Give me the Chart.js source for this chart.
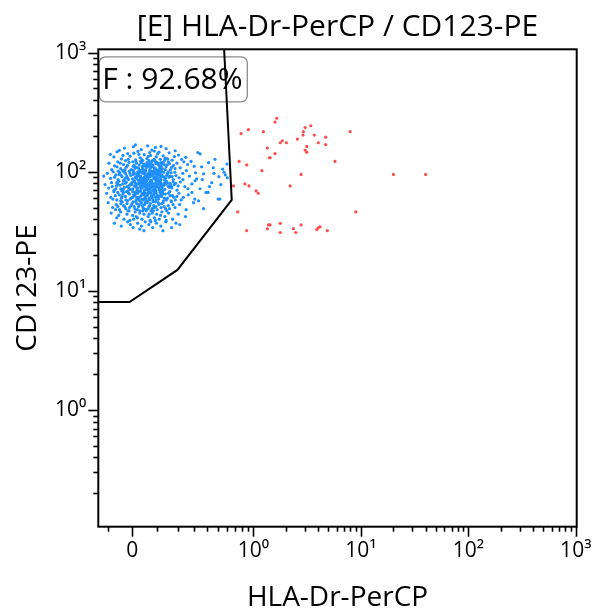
<!DOCTYPE html>
<html>
<head>
<meta charset="utf-8">
<script src="https://cdn.jsdelivr.net/npm/chart.js@4.4.1/dist/chart.umd.min.js"></script>
<style>
  html, body { margin: 0; padding: 0; background: #fff; }
  canvas { display: block; }
</style>
</head>
<body>
<canvas id="dotPlot" width="592" height="612"></canvas>
<script>
// titres et gate
const chartTitle = '[E] HLA-Dr-PerCP / CD123-PE';
const xTitle = 'HLA-Dr-PerCP';
const yTitle = 'CD123-PE';
const gateName = 'F';
const gatePercent = 92.68;

// limites des axes
const xRange = [-0.143, 1020];
const yRange = [0.105, 1065];

// graduations
const xMajorTicks = [0, 1, 10, 100, 1000];
const xMajorLabels = ['0', '10⁰', '10¹', '10²', '10³'];
const xMinorTicks = [-0.1, 0.1, 0.2, 0.3, 0.4, 0.5, 0.6, 0.7, 0.8, 0.9,
  2, 3, 4, 5, 6, 7, 8, 9, 20, 30, 40, 50, 60, 70, 80, 90,
  200, 300, 400, 500, 600, 700, 800, 900];
const yMajorTicks = [1, 10, 100, 1000];
const yMajorLabels = ['10⁰', '10¹', '10²', '10³'];
const yMinorTicks = [0.2, 0.3, 0.4, 0.5, 0.6, 0.7, 0.8, 0.9,
  2, 3, 4, 5, 6, 7, 8, 9, 20, 30, 40, 50, 60, 70, 80, 90,
  200, 300, 400, 500, 600, 700, 800, 900];

// polygone du gate F
const gateX = [0.566, 0.658, 0.199, -0.011, -0.143];
const gateY = [1065, 58.0, 15.0, 8.06, 8.06];

// événements dans le gate (bleu)
const gatedCells = [
  [0.012,168],[0.061,165],[-0.031,158],[0.094,160],[0.035,153],[0.142,156],[-0.052,151],[0.078,152],[0.004,162],[0.187,150],[0.118,163],
  [-0.061,147],[-0.018,142],[0.022,148],[0.047,139],[0.069,145],[0.103,141],[0.128,136],[0.156,144],[-0.074,133],[-0.043,128],[-0.009,135],
  [0.013,126],[0.031,131],[0.058,129],[0.081,124],[0.097,133],[0.115,127],[0.138,130],[0.171,125],[0.205,138],[0.246,132],[-0.089,140],
  [0.006,143],[0.041,124],[0.073,137],[0.089,149],[0.149,128],[-0.027,124],[0.063,134],[0.026,140],[0.109,146],[0.222,127],[0.327,145],
  [0.183,134],[-0.037,137],
  [-0.095,118],[-0.071,112],[-0.058,121],[-0.046,106],[-0.035,115],[-0.024,109],[-0.013,120],[-0.004,104],[0.007,113],[0.016,118],
  [0.024,107],[0.033,122],[0.039,110],[0.046,116],[0.052,103],[0.058,119],[0.064,111],[0.071,106],[0.077,121],[0.083,114],[0.089,108],
  [0.096,117],[0.102,103],[0.109,112],[0.117,119],[0.124,106],[0.133,115],[0.141,110],[0.152,121],[0.163,104],[0.178,113],[0.196,118],
  [0.214,108],[0.258,115],[0.301,111],[0.412,119],[0.455,108],[-0.083,104],[-0.019,113],[0.002,121],[0.029,103],[0.043,112],[0.055,108],
  [0.068,117],[0.086,102],[0.093,122],[0.113,107],[0.127,120],[0.147,114],[0.169,109],[-0.061,110],[0.011,107],[0.036,119],[0.061,113],
  [0.079,110],[0.099,120],[0.121,116],[0.138,104],[0.235,121],[0.186,106],
  [-0.118,92],[-0.102,97],[-0.088,88],[-0.077,100],[-0.066,94],[-0.057,86],[-0.049,98],[-0.041,91],[-0.033,85],[-0.026,96],[-0.019,89],
  [-0.012,101],[-0.006,93],[0.001,87],[0.006,99],[0.012,90],[0.018,95],[0.023,85],[0.028,101],[0.033,92],[0.037,88],[0.042,97],
  [0.047,90],[0.051,100],[0.055,86],[0.059,94],[0.063,89],[0.067,98],[0.072,91],[0.076,85],[0.081,96],[0.085,92],[0.09,87],[0.095,100],
  [0.1,94],[0.106,89],[0.112,97],[0.118,86],[0.125,92],[0.131,99],[0.139,88],[0.147,95],[0.156,90],[0.166,98],[0.177,86],[0.191,93],
  [0.208,89],[0.229,97],[0.27,92],[0.318,87],[0.37,96],[0.51,91],[0.58,94],[-0.071,90],[-0.038,102],[-0.015,86],[0.004,95],[0.02,91],
  [0.035,99],[0.049,87],[0.061,96],[0.074,101],[0.087,88],[0.097,91],[0.108,101],[0.121,94],[0.135,85],[0.152,100],[0.171,91],
  [-0.053,95],[-0.028,88],[0.009,97],[0.026,93],[0.044,85],[0.057,91],[0.07,95],[0.083,99],[0.103,85],[0.116,90],[0.144,93],
  [-0.112,78],[-0.096,73],[-0.084,81],[-0.073,70],[-0.063,76],[-0.054,83],[-0.046,72],[-0.038,79],[-0.031,74],[-0.024,82],[-0.017,69],
  [-0.011,77],[-0.005,80],[0.002,72],[0.008,84],[0.013,75],[0.019,70],[0.024,79],[0.029,83],[0.034,73],[0.038,77],[0.043,81],[0.048,70],
  [0.052,75],[0.056,83],[0.06,78],[0.065,71],[0.069,80],[0.073,74],[0.078,82],[0.082,69],[0.087,77],[0.091,72],[0.096,84],[0.101,75],
  [0.106,79],[0.111,70],[0.117,81],[0.123,74],[0.129,78],[0.136,71],[0.143,83],[0.151,76],[0.16,80],[0.17,73],[0.182,78],[0.197,70],
  [0.215,82],[0.241,75],[0.286,79],[0.343,72],[0.44,81],[-0.081,75],[-0.058,79],[-0.042,69],[-0.021,75],[-0.002,78],[0.011,81],[0.022,73],
  [0.031,76],[0.041,84],[0.05,79],[0.058,72],[0.067,76],[0.076,79],[0.085,71],[0.094,80],[0.104,83],[0.114,76],[0.126,69],[0.14,79],
  [0.157,74],[0.176,82],[-0.066,72],[-0.035,84],[-0.008,71],[0.016,78],[0.036,80],[0.054,71],[0.071,84],[0.089,75],[0.108,73],[0.133,80],
  [0.163,77],[0.203,76],
  [-0.105,66],[-0.087,61],[-0.074,68],[-0.062,58],[-0.052,64],[-0.043,60],[-0.035,67],[-0.027,62],[-0.019,57],[-0.012,65],[-0.005,60],
  [0.002,68],[0.009,63],[0.015,58],[0.021,66],[0.027,61],[0.032,69],[0.037,59],[0.042,64],[0.047,67],[0.052,62],[0.057,57],[0.062,65],
  [0.067,60],[0.072,68],[0.077,63],[0.083,58],[0.088,66],[0.094,61],[0.1,64],[0.107,59],[0.114,67],[0.121,62],[0.129,57],[0.138,65],
  [0.148,60],[0.159,68],[0.172,63],[0.188,58],[0.207,66],[0.232,61],[0.262,64],[0.305,59],[0.39,67],[-0.068,63],[-0.046,57],[-0.023,68],
  [-0.009,59],[0.005,64],[0.018,61],[0.029,57],[0.039,66],[0.049,60],[0.059,63],[0.069,58],[0.08,61],[0.091,68],[0.103,62],[0.117,64],
  [0.134,60],[0.153,66],[0.18,61],[-0.037,65],[0.012,67],[0.044,58],[0.074,66],[0.097,58],[0.125,68],[0.166,57],
  [-0.098,55],[-0.079,50],[-0.064,53],[-0.051,48],[-0.04,56],[-0.03,51],[-0.021,54],[-0.013,47],[-0.005,52],[0.003,56],[0.01,49],
  [0.017,54],[0.024,51],[0.03,47],[0.036,55],[0.042,50],[0.048,53],[0.054,48],[0.06,56],[0.066,51],[0.072,54],[0.079,49],[0.086,52],
  [0.093,56],[0.101,48],[0.109,53],[0.118,50],[0.128,55],[0.139,49],[0.152,52],[0.168,56],[0.186,50],[0.211,53],[0.249,48],[0.296,55],
  [-0.058,51],[-0.026,49],[-0.001,54],[0.02,48],[0.039,52],[0.057,55],[0.075,47],[0.096,51],[0.121,54],[0.145,47],[0.176,53],[0.007,51],
  [0.063,49],[0.083,56],[-0.045,54],
  [-0.085,45],[-0.062,41],[-0.047,46],[-0.033,40],[-0.021,44],[-0.01,39],[0.001,43],[0.011,46],[0.02,41],[0.029,45],[0.038,40],[0.046,44],
  [0.055,47],[0.063,42],[0.071,39],[0.08,45],[0.089,41],[0.099,44],[0.11,40],[0.122,46],[0.136,42],[0.153,45],[0.174,40],[0.203,44],
  [0.245,42],[-0.017,47],[0.015,42],[0.041,47],[0.067,44],[0.093,39],[0.116,43],[0.142,39],[-0.054,43],[0.005,40],[0.085,47],
  [-0.072,37],[-0.044,35],[-0.019,38],[0.003,34],[0.021,37],[0.036,35],[0.051,38],[0.066,36],[0.082,34],[0.098,37],[0.117,35],[0.14,38],
  [0.168,34],[0.212,36],[0.046,32],[0.074,38],[0.127,32],[-0.008,36],[0.029,33],[0.191,37],
  [0.343,141],[0.355,110],[0.55,105],[0.565,99],[0.603,89],[0.52,59],[0.408,67],[0.502,59],[0.307,84],[0.286,67],[0.332,57],[0.47,127],
  [0.42,75],[0.37,49],
  [-0.048,118],[-0.029,104],[-0.016,127],[0.003,111],[0.014,123],[0.027,114],[0.038,126],[0.051,112],[0.066,124],[0.074,115],[0.088,127],
  [0.104,118],[0.119,111],[0.135,125],[0.158,117],[-0.056,101],[-0.044,93],[-0.031,99],[-0.022,92],[-0.009,97],[0.004,102],[0.015,88],
  [0.025,97],[0.032,86],[0.044,101],[0.053,93],[0.062,87],[0.069,102],[0.079,93],[0.092,97],[0.098,89],[0.111,94],[0.123,100],[0.132,90],
  [0.149,97],[0.162,92],[0.185,99],[-0.062,81],[-0.049,77],[-0.036,71],[-0.027,80],[-0.014,73],[0.001,82],[0.009,76],[0.018,73],[0.026,81],
  [0.033,69],[0.045,76],[0.051,82],[0.057,74],[0.064,79],[0.072,72],[0.081,80],[0.093,74],[0.099,78],[0.112,83],[0.121,72],[0.131,77],
  [0.146,81],[0.168,75],[0.189,80],[-0.078,59],[-0.058,67],[-0.041,62],[-0.025,58],[-0.014,66],[0.001,61],[0.013,65],[0.023,59],[0.034,63],
  [0.046,65],[0.054,59],[0.065,67],[0.078,61],[0.086,64],[0.096,67],[0.109,62],[0.126,65],[0.143,58],[0.161,63],[0.196,62],[-0.067,48],
  [-0.035,52],[-0.011,50],[0.014,56],[0.027,53],[0.045,49],[0.051,55],[0.069,52],[0.089,50],[0.106,55],[0.132,51],[0.158,49],[0.016,109],
  [0.041,105],[0.058,115],[0.076,110],[0.094,106],[0.107,115],[0.048,96],[0.066,92],[0.085,96],[0.032,89],[0.021,100],[0.105,97],[0.117,103],
  [0.039,73],[0.061,70],[0.078,75],[0.095,70],[0.118,78],[0.024,68],[0.053,66],
  [0.25,102],[0.28,122],[0.23,86],[0.26,72],[0.31,98],[0.22,58],[0.36,86],[0.46,97],[0.53,78],[0.6,116]
];

// événements hors gate (rouge)
const outsideCells = [
  [1.65,281],[1.59,261],[0.91,226],[0.79,209],[1.24,217],[3.42,243],[3.03,235],[2.92,217],[2.90,203],[3.69,203],[4.71,195],[7.94,217],
  [2.57,188],[1.86,182],[1.78,175],[2.03,175],[4.02,175],[4.71,169],[3.14,163],[1.35,158],[3.03,152],[3.14,146],[1.59,142],[1.43,131],
  [1.41,131],[0.76,122],[5.75,122],[0.88,114],[1.20,102],[2.78,95],[20.1,95],[40.1,95],[0.68,76],[0.85,79],[0.92,76],[2.20,76],
  [1.06,69],[1.11,66],[0.74,46],[8.97,46],[1.43,35.8],[1.38,35.8],[1.78,36.9],[2.78,35.8],[1.35,33.2],[2.36,33.3],[4.17,34.5],
  [4.02,33.8],[3.89,32.7],[0.88,32.1],[1.78,30.9],[2.48,30.9],[4.88,32.1]
];

const FONT = '"Open Sans", "DejaVu Sans", sans-serif';

// échelle biexponentielle : linéaire autour de zéro, log au-dessus de 1
const LIN_WIDTH = 0.21;
const DECADE = 0.888;
const ASINH_ONE = Math.asinh(1 / LIN_WIDTH);

function toBiex(v) {
  return v >= 1 ? 1 + DECADE * Math.log10(v) : Math.asinh(v / LIN_WIDTH) / ASINH_ONE;
}
function fromBiex(t) {
  return t >= 1 ? Math.pow(10, (t - 1) / DECADE) : LIN_WIDTH * Math.sinh(t * ASINH_ONE);
}

class BiexScale extends Chart.Scale {
  determineDataLimits() {
    this.min = this.options.min;
    this.max = this.options.max;
  }
  buildTicks() {
    return xMajorTicks.map(v => ({ value: v, major: true }))
      .concat(xMinorTicks.map(v => ({ value: v, major: false })))
      .sort((a, b) => a.value - b.value);
  }
  configure() {
    super.configure();
    this._startValue = toBiex(this.min);
    this._valueRange = toBiex(this.max) - this._startValue;
  }
  getPixelForValue(value) {
    if (value === null || value === undefined || isNaN(value)) return NaN;
    return this.getPixelForDecimal((toBiex(value) - this._startValue) / this._valueRange);
  }
  getValueForPixel(pixel) {
    return fromBiex(this.getDecimalForPixel(pixel) * this._valueRange + this._startValue);
  }
}
BiexScale.id = 'biex';
BiexScale.defaults = {};
Chart.register(BiexScale);

// cadre, graduations et étiquette du gate
const plotDecor = {
  id: 'plotDecor',
  beforeDatasetsDraw(chart) {
    const ctx = chart.ctx;
    const a = chart.chartArea;
    const x = a.left + 1, y = a.top + 7.5, w = 148, h = 45, r = 6;
    ctx.save();
    ctx.beginPath();
    ctx.moveTo(x + r, y);
    ctx.arcTo(x + w, y, x + w, y + h, r);
    ctx.arcTo(x + w, y + h, x, y + h, r);
    ctx.arcTo(x, y + h, x, y, r);
    ctx.arcTo(x, y, x + w, y, r);
    ctx.closePath();
    ctx.fillStyle = '#fff';
    ctx.fill();
    ctx.strokeStyle = '#8c8c8c';
    ctx.lineWidth = 1.3;
    ctx.stroke();
    ctx.fillStyle = '#000';
    ctx.font = '30px ' + FONT;
    ctx.textBaseline = 'middle';
    ctx.textAlign = 'left';
    ctx.fillText(gateName + ' : ' + gatePercent.toFixed(2) + '%', x + 3, y + h / 2 + 1);
    ctx.restore();
  },
  afterDraw(chart) {
    const ctx = chart.ctx;
    const a = chart.chartArea;
    const xs = chart.scales.x, ys = chart.scales.y;
    ctx.save();
    ctx.strokeStyle = '#000';
    ctx.lineWidth = 1.6;
    xs.ticks.forEach(t => {
      const p = Math.round(xs.getPixelForValue(t.value)) + 0.5;
      ctx.beginPath();
      ctx.moveTo(p, a.bottom);
      ctx.lineTo(p, a.bottom + (t.major ? 10 : 5));
      ctx.stroke();
    });
    ys.ticks.forEach(t => {
      const p = Math.round(ys.getPixelForValue(t.value)) + 0.5;
      ctx.beginPath();
      ctx.moveTo(a.left, p);
      ctx.lineTo(a.left - (t.major ? 10 : 5), p);
      ctx.stroke();
    });
    ctx.lineWidth = 2;
    ctx.strokeRect(a.left, a.top, a.right - a.left, a.bottom - a.top);
    ctx.restore();
  }
};

function majorLabel(ticks, labels) {
  return function (value) {
    const i = ticks.indexOf(value);
    return i >= 0 ? labels[i] : '';
  };
}

new Chart(document.getElementById('dotPlot'), {
  type: 'scatter',
  data: {
    datasets: [
      {
        label: 'Gate ' + gateName,
        data: gateX.map((x, i) => ({ x: x, y: gateY[i] })),
        showLine: true,
        borderColor: '#000',
        borderWidth: 2,
        pointRadius: 0,
        tension: 0,
        order: 0
      },
      {
        label: 'Gated',
        data: gatedCells.map(p => ({ x: p[0], y: p[1] })),
        backgroundColor: '#1e8fff',
        borderWidth: 0,
        pointRadius: 1.6,
        order: 1
      },
      {
        label: 'Outside',
        data: outsideCells.map(p => ({ x: p[0], y: p[1] })),
        backgroundColor: '#ff4d4d',
        borderWidth: 0,
        pointRadius: 1.6,
        order: 2
      }
    ]
  },
  options: {
    responsive: false,
    animation: false,
    events: [],
    layout: { padding: { top: 0, right: 15.3, bottom: 0, left: 0 } },
    plugins: {
      legend: { display: false },
      tooltip: { enabled: false },
      title: {
        display: true,
        fullSize: false,
        text: chartTitle,
        color: '#000',
        font: { family: FONT, size: 30, weight: 'normal', lineHeight: 1.2 },
        padding: { top: 9.5, bottom: 3.8 }
      }
    },
    scales: {
      x: {
        type: 'biex',
        min: xRange[0],
        max: xRange[1],
        grid: { display: false, drawTicks: false },
        border: { display: false },
        ticks: {
          autoSkip: false,
          maxRotation: 0,
          padding: 12,
          color: '#000',
          font: { family: FONT, size: 21 },
          callback: majorLabel(xMajorTicks, xMajorLabels)
        },
        title: {
          display: true,
          text: xTitle,
          color: '#000',
          font: { family: FONT, size: 28, lineHeight: 1.0 },
          padding: { top: 0, bottom: 0 }
        },
        afterFit(s) { s.height = 85.3; s.paddingLeft = 0; s.paddingRight = 0; }
      },
      y: {
        type: 'logarithmic',
        min: yRange[0],
        max: yRange[1],
        grid: { display: false, drawTicks: false },
        border: { display: false },
        afterBuildTicks(s) {
          s.ticks = yMajorTicks.map(v => ({ value: v, major: true }))
            .concat(yMinorTicks.map(v => ({ value: v, major: false })))
            .sort((a, b) => a.value - b.value);
        },
        ticks: {
          autoSkip: false,
          padding: 12,
          color: '#000',
          font: { family: FONT, size: 21 },
          callback: majorLabel(yMajorTicks, yMajorLabels)
        },
        title: {
          display: true,
          text: yTitle,
          color: '#000',
          font: { family: FONT, size: 28 },
          padding: { top: 11, bottom: 0 }
        },
        afterFit(s) { s.width = 98.3; s.paddingTop = 0; s.paddingBottom = 0; }
      }
    }
  },
  plugins: [plotDecor]
});
</script>
</body>
</html>
